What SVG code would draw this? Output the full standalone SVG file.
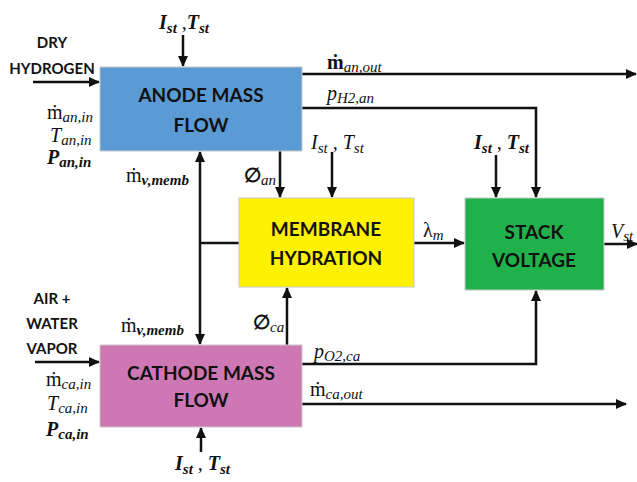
<svg xmlns="http://www.w3.org/2000/svg" width="637" height="482" viewBox="0 0 637 482">
<style>
.lbl{font-family:Lato,"Liberation Sans",sans-serif;font-weight:bold;font-size:15px;fill:#111}
.bx{font-family:Lato,"Liberation Sans",sans-serif;font-weight:bold;font-size:19px;fill:#111;text-anchor:middle}
.m{font-family:"Liberation Serif","DejaVu Serif",serif;font-style:italic;font-size:20px;fill:#111}
.up{font-style:normal}
.s{font-size:15px}
.b{font-weight:bold}
.ln{fill:none;stroke:#111;stroke-width:2.5}
.box{stroke:#c8c8c8;stroke-width:1}
</style>
<defs>
<marker id="ah" markerUnits="userSpaceOnUse" markerWidth="11" markerHeight="10" refX="10" refY="5" orient="auto">
<path d="M0,0 L11,5 L0,10 z" fill="#111"/>
</marker>
</defs>
<rect width="637" height="482" fill="#fff"/>

<g id="connectors">
<line class="ln" x1="33" y1="82" x2="99" y2="82" marker-end="url(#ah)"/>
<line class="ln" x1="183" y1="35" x2="183" y2="66" marker-end="url(#ah)"/>
<line class="ln" x1="302" y1="74" x2="636" y2="74" marker-end="url(#ah)"/>
<path class="ln" d="M302,108 H536 V197" marker-end="url(#ah)"/>
<line class="ln" x1="280" y1="151" x2="280" y2="197" marker-end="url(#ah)"/>
<line class="ln" x1="332" y1="152" x2="332" y2="197" marker-end="url(#ah)"/>
<line class="ln" x1="496" y1="155" x2="496" y2="197" marker-end="url(#ah)"/>
<line class="ln" x1="414" y1="243" x2="464" y2="243" marker-end="url(#ah)"/>
<line class="ln" x1="604" y1="244" x2="637" y2="244" marker-end="url(#ah)"/>
<line class="ln" x1="200" y1="243" x2="200" y2="152" marker-end="url(#ah)"/>
<line class="ln" x1="200" y1="243" x2="200" y2="344" marker-end="url(#ah)"/>
<line class="ln" x1="200" y1="243" x2="239" y2="243"/>
<line class="ln" x1="287" y1="345" x2="287" y2="288" marker-end="url(#ah)"/>
<line class="ln" x1="35" y1="362" x2="99" y2="362" marker-end="url(#ah)"/>
<path class="ln" d="M302,364 H536 V291" marker-end="url(#ah)"/>
<line class="ln" x1="302" y1="404" x2="626" y2="404" marker-end="url(#ah)"/>
<line class="ln" x1="201" y1="452" x2="201" y2="428" marker-end="url(#ah)"/>
</g>

<g id="anode">
<rect class="box" x="100" y="67" width="202" height="84" fill="#5b9bd5"/>
<text class="bx" x="201" y="102">ANODE MASS</text>
<text class="bx" x="201" y="132">FLOW</text>
</g>
<g id="membrane">
<rect class="box" x="239" y="198" width="175" height="89" fill="#fff200"/>
<text class="bx" x="326" y="236">MEMBRANE</text>
<text class="bx" x="326" y="265">HYDRATION</text>
</g>
<g id="stack">
<rect class="box" x="465" y="198" width="139" height="92" fill="#21b14b"/>
<text class="bx" x="534" y="239">STACK</text>
<text class="bx" x="534" y="267">VOLTAGE</text>
</g>
<g id="cathode">
<rect class="box" x="100" y="345" width="202" height="82" fill="#cd78b4"/>
<text class="bx" x="201" y="380">CATHODE MASS</text>
<text class="bx" x="201" y="407">FLOW</text>
</g>

<g id="labels">
<text class="lbl" x="52" y="48" text-anchor="middle">DRY</text>
<text class="lbl" x="52" y="74" text-anchor="middle">HYDROGEN</text>
<text class="lbl" x="52" y="304" text-anchor="middle">AIR +</text>
<text class="lbl" x="52" y="329" text-anchor="middle">WATER</text>
<text class="lbl" x="52" y="354" text-anchor="middle">VAPOR</text>

<text class="m" x="159" y="29"><tspan class="b">I</tspan><tspan class="s b" dy="4">st</tspan><tspan dy="-4"> ,</tspan><tspan class="b">T</tspan><tspan class="s b" dy="4">st</tspan></text>
<text class="m" x="311" y="149">I<tspan class="s" dy="4">st</tspan><tspan dy="-4"> , </tspan>T<tspan class="s" dy="4">st</tspan></text>
<text class="m" x="474" y="149"><tspan class="b">I</tspan><tspan class="s b" dy="4">st</tspan><tspan dy="-4"> , </tspan><tspan class="b">T</tspan><tspan class="s b" dy="4">st</tspan></text>
<text class="m" x="175" y="470"><tspan class="b">I</tspan><tspan class="s b" dy="4">st</tspan><tspan dy="-4"> , </tspan><tspan class="b">T</tspan><tspan class="s b" dy="4">st</tspan></text>

<text class="m" x="47" y="119"><tspan class="up">ṁ</tspan><tspan class="s" dy="3">an,in</tspan></text>
<text class="m" x="50" y="142">T<tspan class="s" dy="3">an,in</tspan></text>
<text class="m b" x="47" y="164">P<tspan class="s" dy="3">an,in</tspan></text>

<text class="m" x="46" y="386"><tspan class="up">ṁ</tspan><tspan class="s" dy="3">ca,in</tspan></text>
<text class="m" x="47" y="410">T<tspan class="s" dy="3">ca,in</tspan></text>
<text class="m b" x="46" y="436">P<tspan class="s" dy="3">ca,in</tspan></text>

<text class="m" x="327" y="69"><tspan class="up b">ṁ</tspan><tspan class="s" dy="3">an,out</tspan></text>
<text class="m" x="327" y="100">p<tspan class="s" dy="3">H2,an</tspan></text>
<text class="m" x="126" y="182"><tspan class="up">ṁ</tspan><tspan class="s b" dy="3">v,memb</tspan></text>
<text class="m" x="121" y="332"><tspan class="up">ṁ</tspan><tspan class="s b" dy="3">v,memb</tspan></text>
<text class="m" x="244" y="182"><tspan class="up b">∅</tspan><tspan class="s" dy="3">an</tspan></text>
<text class="m" x="253" y="329"><tspan class="up b">∅</tspan><tspan class="s" dy="3">ca</tspan></text>
<text class="m" x="423" y="237"><tspan class="up">λ</tspan><tspan class="s" dy="3">m</tspan></text>
<text class="m" x="611" y="238">V<tspan class="s" dy="3">st</tspan></text>
<text class="m" x="314" y="358">p<tspan class="s" dy="3">O2,ca</tspan></text>
<text class="m" x="310" y="396"><tspan class="up">ṁ</tspan><tspan class="s" dy="3">ca,out</tspan></text>
</g>
</svg>
